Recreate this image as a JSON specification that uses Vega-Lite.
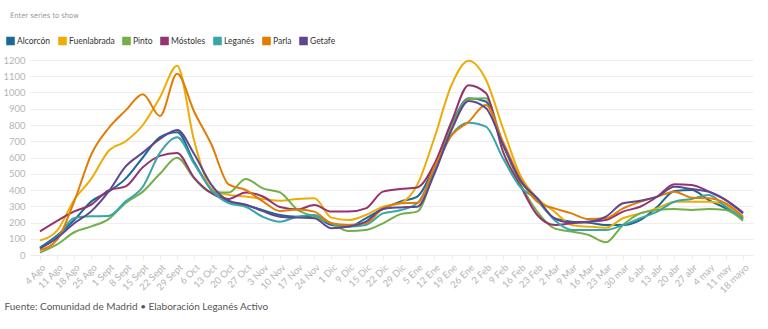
{
  "$schema": "https://vega.github.io/schema/vega-lite/v6.json",
  "width": 723,
  "height": 195,
  "autosize": {"type": "none"},
  "padding": {"left": 30, "top": 60, "right": 15, "bottom": 74},
  "background": "white",
  "title": {"text": "Enter series to show", "anchor": "start", "frame": "group", "dx": -20, "offset": 17, "fontSize": 7.5, "font": "'DejaVu Sans Condensed', Lato", "fontWeight": "normal", "color": "#9a9a9a"},
  "data": {"values": [
    {"s":"4 Ago","Alcorcón":45,"Fuenlabrada":90,"Pinto":15,"Móstoles":145,"Leganés":40,"Parla":30,"Getafe":40},
    {"s":"11 Ago","Alcorcón":120,"Fuenlabrada":150,"Pinto":65,"Móstoles":210,"Leganés":110,"Parla":95,"Getafe":105},
    {"s":"18 Ago","Alcorcón":215,"Fuenlabrada":340,"Pinto":140,"Móstoles":268,"Leganés":228,"Parla":330,"Getafe":195},
    {"s":"25 Ago","Alcorcón":330,"Fuenlabrada":470,"Pinto":176,"Móstoles":310,"Leganés":238,"Parla":620,"Getafe":270},
    {"s":"1 Sept","Alcorcón":390,"Fuenlabrada":640,"Pinto":221,"Móstoles":398,"Leganés":240,"Parla":780,"Getafe":390},
    {"s":"8 Sept","Alcorcón":470,"Fuenlabrada":700,"Pinto":320,"Móstoles":422,"Leganés":330,"Parla":890,"Getafe":545},
    {"s":"15 Sept","Alcorcón":600,"Fuenlabrada":800,"Pinto":390,"Móstoles":540,"Leganés":420,"Parla":990,"Getafe":630},
    {"s":"22 Sept","Alcorcón":725,"Fuenlabrada":970,"Pinto":500,"Móstoles":610,"Leganés":630,"Parla":855,"Getafe":715},
    {"s":"29 Sept","Alcorcón":755,"Fuenlabrada":1165,"Pinto":598,"Móstoles":628,"Leganés":725,"Parla":1115,"Getafe":770},
    {"s":"6 Oct","Alcorcón":570,"Fuenlabrada":700,"Pinto":470,"Móstoles":475,"Leganés":560,"Parla":880,"Getafe":620},
    {"s":"13 Oct","Alcorcón":400,"Fuenlabrada":410,"Pinto":385,"Móstoles":381,"Leganés":400,"Parla":680,"Getafe":432},
    {"s":"20 Oct","Alcorcón":330,"Fuenlabrada":370,"Pinto":384,"Móstoles":345,"Leganés":320,"Parla":435,"Getafe":335},
    {"s":"27 Oct","Alcorcón":308,"Fuenlabrada":360,"Pinto":468,"Móstoles":385,"Leganés":297,"Parla":400,"Getafe":310},
    {"s":"3 Nov","Alcorcón":275,"Fuenlabrada":345,"Pinto":410,"Móstoles":360,"Leganés":235,"Parla":330,"Getafe":270},
    {"s":"10 Nov","Alcorcón":246,"Fuenlabrada":334,"Pinto":385,"Móstoles":295,"Leganés":205,"Parla":270,"Getafe":236},
    {"s":"17 Nov","Alcorcón":235,"Fuenlabrada":345,"Pinto":280,"Móstoles":280,"Leganés":236,"Parla":280,"Getafe":230},
    {"s":"24 Nov","Alcorcón":236,"Fuenlabrada":350,"Pinto":236,"Móstoles":308,"Leganés":246,"Parla":267,"Getafe":226},
    {"s":"1 Dic","Alcorcón":185,"Fuenlabrada":230,"Pinto":195,"Móstoles":267,"Leganés":195,"Parla":195,"Getafe":164},
    {"s":"9 Dic","Alcorcón":175,"Fuenlabrada":215,"Pinto":148,"Móstoles":267,"Leganés":175,"Parla":185,"Getafe":175},
    {"s":"15 Dic","Alcorcón":226,"Fuenlabrada":246,"Pinto":154,"Móstoles":287,"Leganés":185,"Parla":195,"Getafe":205},
    {"s":"22 Dic","Alcorcón":283,"Fuenlabrada":297,"Pinto":195,"Móstoles":390,"Leganés":256,"Parla":287,"Getafe":283},
    {"s":"29 Dic","Alcorcón":328,"Fuenlabrada":318,"Pinto":250,"Móstoles":406,"Leganés":275,"Parla":318,"Getafe":293},
    {"s":"5 Ene","Alcorcón":359,"Fuenlabrada":431,"Pinto":267,"Móstoles":416,"Leganés":318,"Parla":322,"Getafe":297},
    {"s":"12 Ene","Alcorcón":545,"Fuenlabrada":720,"Pinto":520,"Móstoles":560,"Leganés":520,"Parla":540,"Getafe":500},
    {"s":"19 Ene","Alcorcón":800,"Fuenlabrada":1046,"Pinto":790,"Móstoles":820,"Leganés":738,"Parla":738,"Getafe":769},
    {"s":"26 Ene","Alcorcón":964,"Fuenlabrada":1195,"Pinto":960,"Móstoles":1045,"Leganés":814,"Parla":820,"Getafe":948},
    {"s":"2 Feb","Alcorcón":945,"Fuenlabrada":1080,"Pinto":965,"Móstoles":997,"Leganés":790,"Parla":923,"Getafe":904},
    {"s":"9 Feb","Alcorcón":680,"Fuenlabrada":780,"Pinto":680,"Móstoles":636,"Leganés":595,"Parla":697,"Getafe":680},
    {"s":"16 Feb","Alcorcón":461,"Fuenlabrada":492,"Pinto":441,"Móstoles":430,"Leganés":420,"Parla":472,"Getafe":461},
    {"s":"23 Feb","Alcorcón":338,"Fuenlabrada":349,"Pinto":267,"Móstoles":246,"Leganés":340,"Parla":328,"Getafe":349},
    {"s":"2 Mar","Alcorcón":226,"Fuenlabrada":267,"Pinto":164,"Móstoles":185,"Leganés":215,"Parla":287,"Getafe":226},
    {"s":"9 Mar","Alcorcón":205,"Fuenlabrada":185,"Pinto":144,"Móstoles":195,"Leganés":154,"Parla":256,"Getafe":200},
    {"s":"16 Mar","Alcorcón":199,"Fuenlabrada":174,"Pinto":123,"Móstoles":205,"Leganés":154,"Parla":221,"Getafe":205},
    {"s":"23 Mar","Alcorcón":185,"Fuenlabrada":168,"Pinto":78,"Móstoles":215,"Leganés":154,"Parla":226,"Getafe":236},
    {"s":"30 mar","Alcorcón":185,"Fuenlabrada":226,"Pinto":185,"Móstoles":267,"Leganés":185,"Parla":287,"Getafe":318},
    {"s":"6 abr","Alcorcón":215,"Fuenlabrada":256,"Pinto":256,"Móstoles":297,"Leganés":226,"Parla":328,"Getafe":334},
    {"s":"13 abr","Alcorcón":297,"Fuenlabrada":287,"Pinto":277,"Móstoles":359,"Leganés":267,"Parla":359,"Getafe":359},
    {"s":"20 abr","Alcorcón":394,"Fuenlabrada":328,"Pinto":283,"Móstoles":435,"Leganés":328,"Parla":390,"Getafe":420},
    {"s":"27 abr","Alcorcón":400,"Fuenlabrada":328,"Pinto":277,"Móstoles":431,"Leganés":345,"Parla":353,"Getafe":406},
    {"s":"4 may","Alcorcón":338,"Fuenlabrada":328,"Pinto":283,"Móstoles":390,"Leganés":369,"Parla":349,"Getafe":390},
    {"s":"11 may","Alcorcón":287,"Fuenlabrada":308,"Pinto":277,"Móstoles":338,"Leganés":297,"Parla":318,"Getafe":338},
    {"s":"18 mayo","Alcorcón":221,"Fuenlabrada":230,"Pinto":211,"Móstoles":262,"Leganés":226,"Parla":236,"Getafe":256}
  ]},
  "transform": [
    {"fold": ["Alcorcón","Fuenlabrada","Pinto","Móstoles","Leganés","Parla","Getafe"], "as": ["municipio","casos"]}
  ],
  "mark": {"type": "line", "interpolate": "monotone", "strokeWidth": 2},
  "encoding": {
    "x": {
      "field": "s", "type": "ordinal", "sort": null,
      "scale": {"type": "point", "padding": 0.58},
      "axis": {
        "labelAngle": -45, "labelFontSize": 9.5, "labelFont": "Lato", "labelColor": "#b5b5b5",
        "domainColor": "#ececec", "tickColor": "#ececec", "tickSize": 4, "labelPadding": 3,
        "grid": false,
        "title": "Fuente: Comunidad de Madrid • Elaboración Leganés Activo",
        "titleAnchor": "start", "titleAlign": "left", "titleX": -26, "titleY": 46,
        "titleFont": "Lato", "titleFontSize": 10, "titleFontWeight": "normal", "titleColor": "#555555"
      }
    },
    "y": {
      "field": "casos", "type": "quantitative",
      "scale": {"domain": [0, 1200], "nice": false},
      "axis": {
        "values": [0,100,200,300,400,500,600,700,800,900,1000,1100,1200],
        "format": "d",
        "title": null, "domain": false, "ticks": false,
        "labelFontSize": 9.5, "labelFont": "Lato", "labelColor": "#b5b5b5", "labelPadding": 5,
        "gridColor": "#eeeeee"
      }
    },
    "color": {
      "field": "municipio", "type": "nominal",
      "scale": {
        "domain": ["Alcorcón","Fuenlabrada","Pinto","Móstoles","Leganés","Parla","Getafe"],
        "range": ["#1D6996","#EDAD08","#73AF48","#94346E","#38A6A5","#E17C05","#5F4690"]
      },
      "legend": {
        "orient": "none", "legendX": -24, "legendY": -24, "direction": "horizontal",
        "title": null, "symbolType": "square", "symbolSize": 50,
        "labelFont": "Lato", "labelFontSize": 8.5, "labelColor": "#333333",
        "labelOffset": 2, "columnPadding": 4,
        "encode": {
          "symbols": {"update": {
            "fill": {"scale": "color", "field": "value"},
            "stroke": {"value": "transparent"},
            "opacity": {"value": 1}
          }}
        }
      }
    }
  },
  "config": {"view": {"stroke": null}}
}
